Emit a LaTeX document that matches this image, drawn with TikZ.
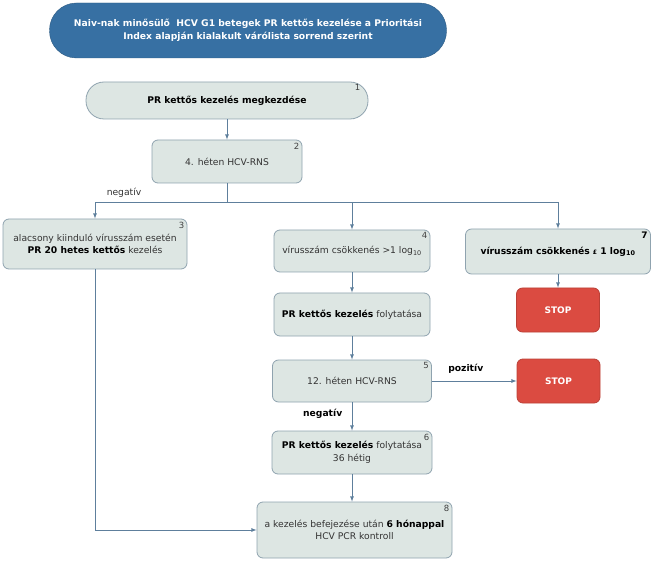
\documentclass[tikz,border=0pt]{standalone}
\usepackage{fontspec}
\setmainfont{DejaVu Sans}
\usetikzlibrary{arrows}

\definecolor{boxfill}{HTML}{DDE6E3}
\definecolor{boxline}{HTML}{8FA3AF}
\definecolor{arrowc}{HTML}{5E7F9C}
\definecolor{titlefill}{HTML}{3770A3}
\definecolor{stopfill}{HTML}{DB4B41}

\begin{document}
\begin{tikzpicture}[x=1pt, y=-1pt, font=\fontsize{9.2}{12.5}\selectfont,
  box/.style={draw=boxline, fill=boxfill, line width=0.8pt, rounded corners=6pt, align=center, inner sep=0pt, text=black!80},
  stopbox/.style={draw=stopfill!85!black, fill=stopfill, line width=0.8pt, rounded corners=6pt, text=white, font=\fontsize{9}{10}\selectfont\bfseries, minimum width=83pt, minimum height=44pt},
  numlab/.style={anchor=north east, inner sep=3pt, font=\fontsize{8.5}{9}\selectfont, text=black!75},
  num/.style={label={[numlab]north east:#1}},
  arr/.style={draw=arrowc, line width=0.8pt, -latex}]
\useasboundingbox (0,0) rectangle (653,561);

\node[draw=titlefill!80!black, fill=titlefill, rounded corners=27pt, minimum width=397pt, minimum height=55pt, text=white, align=center, font=\fontsize{9.2}{12.5}\selectfont\bfseries] (t) at (248,30.5) {Naiv-nak minősülő\ \ HCV G1 betegek PR kettős kezelése a Prioritási\\Index alapján kialakult várólista sorrend szerint};

\node[box, rounded corners=18pt, minimum width=282pt, minimum height=37pt, label={[numlab, xshift=-5pt]north east:1}] (n1) at (227,100.5) {\textcolor{black}{\textbf{PR kettős kezelés megkezdése}}};
\node[box, minimum width=150pt, minimum height=43pt, num=2] (n2) at (227,161.5) {4. héten HCV-RNS};
\node[box, minimum width=184pt, minimum height=50pt, num=3] (n3) at (95,244) {alacsony kiinduló vírusszám esetén\\\textcolor{black}{\textbf{PR 20 hetes kettős}} kezelés};
\node[box, minimum width=156pt, minimum height=42pt, num=4] (n4) at (352,251) {vírusszám csökkenés >1 log\textsubscript{10}};
\node[box, minimum width=185pt, minimum height=45pt, text=black, label={[numlab, text=black, font=\fontsize{9}{9}\selectfont\bfseries]north east:7}] (n7) at (558,251.5) {\textbf{vírusszám csökkenés {\fontsize{6}{6}\selectfont £} 1 log\textsubscript{10}}};
\node[box, minimum width=156pt, minimum height=43pt] (n4b) at (352,314.5) {\textcolor{black}{\textbf{PR kettős kezelés}} folytatása};
\node[stopbox] (s7) at (558,310) {STOP};
\node[box, minimum width=159pt, minimum height=42pt, num=5] (n5) at (352,381) {12. héten HCV-RNS};
\node[stopbox] (s5) at (558.5,381) {STOP};
\node[box, minimum width=160pt, minimum height=43pt, num=6] (n6) at (352,452.5) {\textcolor{black}{\textbf{PR kettős kezelés}} folytatása\\36 hétig};
\node[box, minimum width=195pt, minimum height=56pt, num=8] (n8) at (354.5,530) {a kezelés befejezése után \textcolor{black}{\textbf{6 hónappal}}\\HCV PCR kontroll};

\draw[arr] (n1) -- (n2);
\draw[draw=arrowc, line width=0.8pt] (n2.south) -- ++(0,19) coordinate (split);
\draw[arr] (split) -| node[pos=0.39, above=1pt, text=black!80] {negatív} (n3.north);
\draw[arr] (split) -| (n4.north);
\draw[arr] (split) -| (n7.north);
\draw[arr] (n4) -- (n4b);
\draw[arr] (n7) -- (s7);
\draw[arr] (n4b) -- (n5);
\draw[arr] (n5) -- node[pos=0.4, above=4pt] {\textbf{pozitív}} (s5);
\draw[arr] (n5) -- node[pos=0.4, left=6pt] {\textbf{negatív}} (n6);
\draw[arr] (n6.south) -- (n6.south |- n8.north);
\draw[arr] (n3.south) |- (n8.west);
\end{tikzpicture}
\end{document}
